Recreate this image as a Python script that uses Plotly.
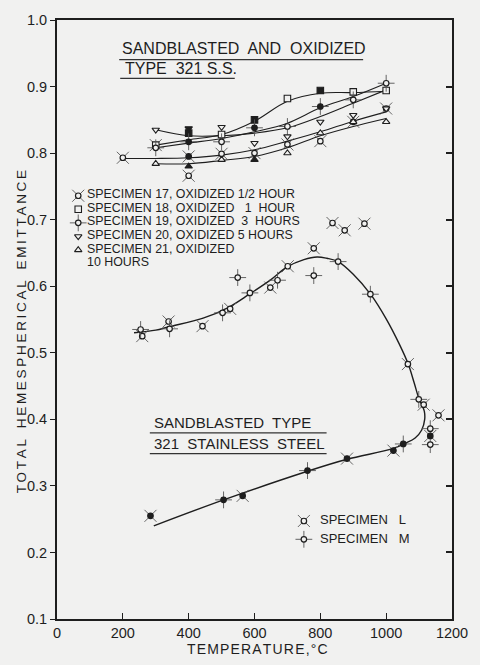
import plotly.graph_objects as go

# ---------------- data ----------------
# Sandblasted and oxidized Type 321 S.S. (five specimens)
s17_T = [200, 300, 400, 400, 500, 600, 700, 800, 900, 1000]
s17_E = [0.793, 0.812, 0.795, 0.766, 0.799, 0.800, 0.813, 0.818, 0.847, 0.867]
s17_fill = [0, 0, 1, 0, 0, 0, 0, 0, 0, 0]
s17_curve_T = [200, 300, 400, 500, 600, 700, 800, 900, 1000]
s17_curve_E = [0.792, 0.792, 0.793, 0.797, 0.805, 0.818, 0.832, 0.848, 0.862]

s18_T = [300, 400, 500, 600, 700, 800, 900, 1000]
s18_E = [0.812, 0.830, 0.828, 0.850, 0.882, 0.894, 0.892, 0.894]
s18_fill = [0, 1, 0, 1, 0, 1, 0, 0]
s18_curve_E = [0.812, 0.820, 0.828, 0.848, 0.878, 0.890, 0.891, 0.893]

s19_T = [300, 400, 500, 600, 700, 800, 900, 1000]
s19_E = [0.808, 0.817, 0.817, 0.838, 0.840, 0.870, 0.880, 0.905]
s19_fill = [0, 1, 0, 1, 0, 1, 0, 0]
s19_curve_E = [0.808, 0.815, 0.822, 0.832, 0.845, 0.868, 0.885, 0.905]

s20_T = [300, 400, 500, 600, 700, 800, 900, 1000]
s20_E = [0.835, 0.837, 0.839, 0.815, 0.825, 0.847, 0.857, 0.867]
s20_fill = [0, 1, 0, 0, 0, 0, 0, 0]
s20_curve_E = [0.835, 0.826, 0.826, 0.830, 0.838, 0.855, 0.875, 0.895]

s21_T = [300, 400, 500, 600, 700, 800, 900, 1000]
s21_E = [0.784, 0.780, 0.790, 0.790, 0.800, 0.830, 0.847, 0.847]
s21_fill = [0, 1, 0, 1, 0, 0, 0, 0]
s21_curve_E = [0.784, 0.784, 0.789, 0.795, 0.808, 0.826, 0.840, 0.852]

# Sandblasted Type 321 stainless steel, specimens L and M
L_open_T = [259, 339, 442, 526, 648, 701, 780, 837, 874, 934, 1066, 1114, 1159]
L_open_E = [0.525, 0.547, 0.540, 0.566, 0.598, 0.630, 0.657, 0.695, 0.684, 0.694, 0.483, 0.422, 0.406]
L_fill_T = [284, 564, 881, 1022, 1134]
L_fill_E = [0.255, 0.285, 0.341, 0.353, 0.375]

M_open_T = [254, 342, 503, 549, 586, 670, 780, 854, 952, 1099, 1134, 1134]
M_open_E = [0.535, 0.536, 0.560, 0.613, 0.590, 0.609, 0.616, 0.637, 0.588, 0.430, 0.386, 0.362]
M_fill_T = [506, 761, 1052]
M_fill_E = [0.279, 0.323, 0.363]

# faired curve: heating branch (lower) joined to the upper branch
sb_curve_T = [294, 506, 761, 881, 1020, 1058, 1088, 1108, 1117, 1116, 1110, 1099, 1085,
              1067, 1040, 1000, 954, 900, 854, 820, 790, 750, 699, 650, 584, 520, 444, 339, 300, 234]
sb_curve_E = [0.240, 0.279, 0.322, 0.340, 0.356, 0.364, 0.372, 0.384, 0.400, 0.412, 0.420, 0.432, 0.455,
              0.483, 0.513, 0.551, 0.587, 0.618, 0.637, 0.642, 0.644, 0.640, 0.629, 0.610, 0.588, 0.568, 0.552, 0.539, 0.534, 0.530]

x_ticks = [0, 200, 400, 600, 800, 1000, 1200]
y_ticks = [0.1, 0.2, 0.3, 0.4, 0.5, 0.6, 0.7, 0.8, 0.9, 1.0]
y_tick_text = ["0.1", "0.2", "0.3", "0.4", "0.5", "0.6", "0.7", "0.8", "0.9", "1.0"]

# ---------------- styling ----------------
INK = "#1e1e1e"
BG = "#f1f1f0"
FONT = "Liberation Sans, Arial, sans-serif"

W, H = 480, 665
L_M, R_M, T_M, B_M = 57, 23, 14, 46
X_RANGE = [0, 1200]
Y_RANGE = [0.1, 1.0]


def to_x(px):
    """pixel column -> temperature units (used only for key symbols)"""
    return X_RANGE[0] + (px - L_M) / (W - L_M - R_M) * (X_RANGE[1] - X_RANGE[0])


def to_y(py):
    return Y_RANGE[0] + (H - B_M - py) / (H - T_M - B_M) * (Y_RANGE[1] - Y_RANGE[0])


def pxp(px):
    return (px - L_M) / (W - L_M - R_M)


def pyp(py):
    return (H - B_M - py) / (H - T_M - B_M)


fig = go.Figure()


def add_marks(T, E, kind, filled):
    """draw one family of markers; 'filled' is a list of 0/1 flags or a single bool"""
    if isinstance(filled, bool):
        filled = [int(filled)] * len(T)
    for flag in (0, 1):
        xs = [t for t, f in zip(T, filled) if f == flag]
        ys = [e for e, f in zip(E, filled) if f == flag]
        if not xs:
            continue
        fillc = INK if flag else BG
        if kind in ("L", "M"):
            spike = "x-thin-open" if kind == "L" else "cross-thin-open"
            fig.add_trace(go.Scatter(x=xs, y=ys, mode="markers", hoverinfo="skip",
                                     marker=dict(symbol=spike, size=12, color="#555",
                                                 line=dict(width=0.9, color="#555")),
                                     showlegend=False))
            fig.add_trace(go.Scatter(x=xs, y=ys, mode="markers", hoverinfo="skip",
                                     marker=dict(symbol="circle", size=5.5, color=fillc,
                                                 line=dict(width=1.2, color=INK)),
                                     showlegend=False))
        else:
            sym = {"square": "square", "tdown": "triangle-down", "tup": "triangle-up"}[kind]
            fig.add_trace(go.Scatter(x=xs, y=ys, mode="markers", hoverinfo="skip",
                                     marker=dict(symbol=sym, size=6.5, color=fillc,
                                                 line=dict(width=1.1, color=INK)),
                                     showlegend=False))


def add_curve(T, E, width=1.3):
    fig.add_trace(go.Scatter(x=T, y=E, mode="lines", hoverinfo="skip",
                             line=dict(color=INK, width=width, shape="spline", smoothing=1.0),
                             showlegend=False))


# oxidized specimen curves
add_curve(s17_curve_T, s17_curve_E, 1.1)
add_curve(s18_T, s18_curve_E, 1.1)
add_curve(s19_T, s19_curve_E, 1.1)
add_curve(s20_T, s20_curve_E, 1.1)
add_curve(s21_T, s21_curve_E, 1.1)

add_marks(s17_T, s17_E, "L", s17_fill)
add_marks(s18_T, s18_E, "square", s18_fill)
add_marks(s19_T, s19_E, "M", s19_fill)
add_marks(s20_T, s20_E, "tdown", s20_fill)
add_marks(s21_T, s21_E, "tup", s21_fill)

# sandblasted curve and points
add_curve(sb_curve_T, sb_curve_E, 1.4)
add_marks(L_open_T, L_open_E, "L", False)
add_marks(M_open_T, M_open_E, "M", False)
add_marks(L_fill_T, L_fill_E, "L", True)
add_marks(M_fill_T, M_fill_E, "M", True)

annotations = []
shapes = []


def label(text, x_px, y_px, size, anchor="left", angle=0):
    annotations.append(dict(text=text, x=pxp(x_px), y=pyp(y_px), xref="paper", yref="paper",
                            xanchor=anchor, yanchor="middle", showarrow=False, textangle=angle,
                            font=dict(family=FONT, size=size, color=INK)))


def underline(x0, x1, y_px):
    shapes.append(dict(type="line", xref="paper", yref="paper", x0=pxp(x0), x1=pxp(x1),
                       y0=pyp(y_px), y1=pyp(y_px), line=dict(color="#333", width=1.1)))


# headings
label("SANDBLASTED  AND  OXIDIZED", 121, 43, 16)
underline(120, 367, 54)
label("TYPE  321 S.S.", 124, 62.5, 16)
underline(121, 237, 73)

label("SANDBLASTED  TYPE", 153, 420.5, 15)
underline(151, 330, 431)
label("321  STAINLESS  STEEL", 153, 442, 15)
underline(151, 330, 452)

# key for oxidized specimens
legend_rows = [
    ("SPECIMEN 17, OXIDIZED 1/2 HOUR", "L"),
    ("SPECIMEN 18, OXIDIZED   1  HOUR", "square"),
    ("SPECIMEN 19, OXIDIZED  3  HOURS", "M"),
    ("SPECIMEN 20, OXIDIZED 5 HOURS", "tdown"),
    ("SPECIMEN 21, OXIDIZED", "tup"),
]
row0, step = 191.5, 13.7
for i, (txt, kind) in enumerate(legend_rows):
    yrow = row0 + i * step
    label(txt, 85, yrow - 1.5, 12.4)
    add_marks([to_x(78.5)], [to_y(yrow)], kind, False)
label("10 HOURS", 85, row0 + 5 * step - 1.5, 12.4)

# key for sandblasted specimens
label("SPECIMEN   L", 321, 519, 13)
add_marks([to_x(307)], [to_y(520)], "L", False)
label("SPECIMEN   M", 321, 537.5, 13)
add_marks([to_x(307)], [to_y(538.5)], "M", False)

# axis titles (letter-spaced lettering)
TS = "\u2009"
HS = "\u200a"
ytitle = "   ".join(TS.join(w) for w in ["TOTAL", "HEMESPHERICAL", "EMITTANCE"])
label(ytitle, 21, 329, 13.5, anchor="center", angle=-90)
label(HS.join("TEMPERATURE,°C"), 260, 649, 14, anchor="center")

fig.update_layout(
    width=W, height=H,
    margin=dict(l=L_M, r=R_M, t=T_M, b=B_M),
    paper_bgcolor=BG, plot_bgcolor=BG,
    showlegend=False,
    annotations=annotations,
    shapes=shapes,
    font=dict(family=FONT, size=14, color=INK),
    xaxis=dict(range=X_RANGE, tickvals=x_ticks, ticktext=[str(v) for v in x_ticks],
               showgrid=False, zeroline=False, showline=True, linecolor=INK, linewidth=2,
               mirror=True, ticks="inside", ticklen=6, tickwidth=1.3, tickcolor=INK,
               tickfont=dict(family=FONT, size=14.5, color=INK)),
    yaxis=dict(range=Y_RANGE, tickvals=y_ticks, ticktext=y_tick_text,
               showgrid=False, zeroline=False, showline=True, linecolor=INK, linewidth=2,
               mirror=True, ticks="outside", ticklen=5, tickwidth=1.3, tickcolor=INK,
               tickfont=dict(family=FONT, size=14.5, color=INK)),
    yaxis2=dict(range=Y_RANGE, overlaying="y", side="right", anchor="x", tickvals=y_ticks,
                showticklabels=False, showgrid=False, zeroline=False, showline=False,
                ticks="inside", ticklen=6, tickwidth=1.5, tickcolor=INK),
)

# invisible trace to attach the right-hand tick set
fig.add_trace(go.Scatter(x=[0], y=[0.1], yaxis="y2", mode="markers", showlegend=False,
                         hoverinfo="skip", marker=dict(size=1, opacity=0)))

fig.write_html("out.html")
